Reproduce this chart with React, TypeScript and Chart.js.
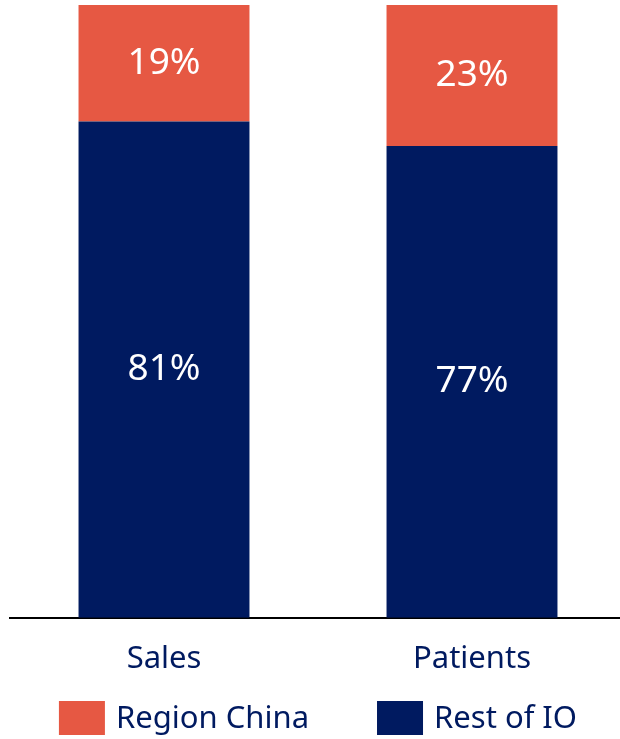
import React, { useEffect, useRef } from "react";
import { Chart, registerables } from "chart.js";

Chart.register(...registerables);

const categories = ["Sales", "Patients"];
const restOfIO = [81, 77];
const regionChina = [19, 23];
const seriesNames = ["Region China", "Rest of IO"];

const NAVY = "#001A60";
const ORANGE = "#E65843";
const FONT = "'Noto Sans', 'Open Sans', sans-serif";

const valueLabels = {
  id: "valueLabels",
  afterDatasetsDraw(chart: any) {
    const ctx = chart.ctx;
    ctx.save();
    ctx.fillStyle = "#FFFFFF";
    ctx.font = `37px ${FONT}`;
    ctx.textAlign = "center";
    ctx.textBaseline = "middle";
    chart.data.datasets.forEach((ds: any, di: number) => {
      const meta = chart.getDatasetMeta(di);
      meta.data.forEach((bar: any, i: number) => {
        const p = bar.getProps(["x", "y", "base"], true);
        const cy = (p.y + p.base) / 2;
        ctx.fillText(`${ds.data[i]}%`, p.x, cy);
      });
    });
    ctx.restore();
  },
};

const customLegend = {
  id: "customLegend",
  afterDraw(chart: any) {
    const ctx = chart.ctx;
    ctx.save();
    ctx.font = `31px ${FONT}`;
    const boxW = 46;
    const boxH = 34;
    const gap = 11;
    const itemGap = 68;
    const items = [
      { label: seriesNames[0], color: ORANGE },
      { label: seriesNames[1], color: NAVY },
    ];
    const widths = items.map((it) => boxW + gap + ctx.measureText(it.label).width);
    const total = widths.reduce((a, b) => a + b, 0) + itemGap * (items.length - 1);
    const center = (chart.chartArea.left + chart.chartArea.right) / 2;
    let x = center - total / 2;
    const cy = 718;
    ctx.textBaseline = "middle";
    ctx.textAlign = "left";
    items.forEach((it, i) => {
      ctx.fillStyle = it.color;
      ctx.fillRect(x, cy - boxH / 2, boxW, boxH);
      ctx.fillStyle = NAVY;
      ctx.fillText(it.label, x + boxW + gap, cy + 1);
      x += widths[i] + itemGap;
    });
    ctx.restore();
  },
};

export default function App() {
  const ref = useRef<HTMLCanvasElement | null>(null);
  useEffect(() => {
    if (!ref.current) return;
    const chart = new Chart(ref.current, {
      type: "bar",
      data: {
        labels: categories,
        datasets: [
          {
            label: seriesNames[1],
            data: restOfIO,
            backgroundColor: NAVY,
            barPercentage: 0.555,
            categoryPercentage: 1,
          },
          {
            label: seriesNames[0],
            data: regionChina,
            backgroundColor: ORANGE,
            barPercentage: 0.555,
            categoryPercentage: 1,
          },
        ],
      },
      options: {
        animation: false,
        responsive: false,
        maintainAspectRatio: false,
        layout: { padding: { left: 10, right: 14, top: 5, bottom: 38 } },
        plugins: {
          legend: { display: false },
          tooltip: { enabled: false },
        },
        scales: {
          x: {
            stacked: true,
            grid: { display: false, drawTicks: false },
            border: { display: true, color: "#000000", width: 2 },
            ticks: {
              color: NAVY,
              font: { family: FONT, size: 31 },
              padding: 23,
            },
          },
          y: {
            stacked: true,
            min: 0,
            max: 100,
            display: false,
          },
        },
      },
      plugins: [valueLabels, customLegend],
    });
    return () => chart.destroy();
  }, []);
  return (
    <div
      style={{
        position: "fixed",
        left: 0,
        top: 0,
        width: 620,
        height: 739,
        overflow: "hidden",
        background: "#fff",
      }}
    >
      <canvas ref={ref} width={640} height={739} style={{ display: "block" }} />
    </div>
  );
}
